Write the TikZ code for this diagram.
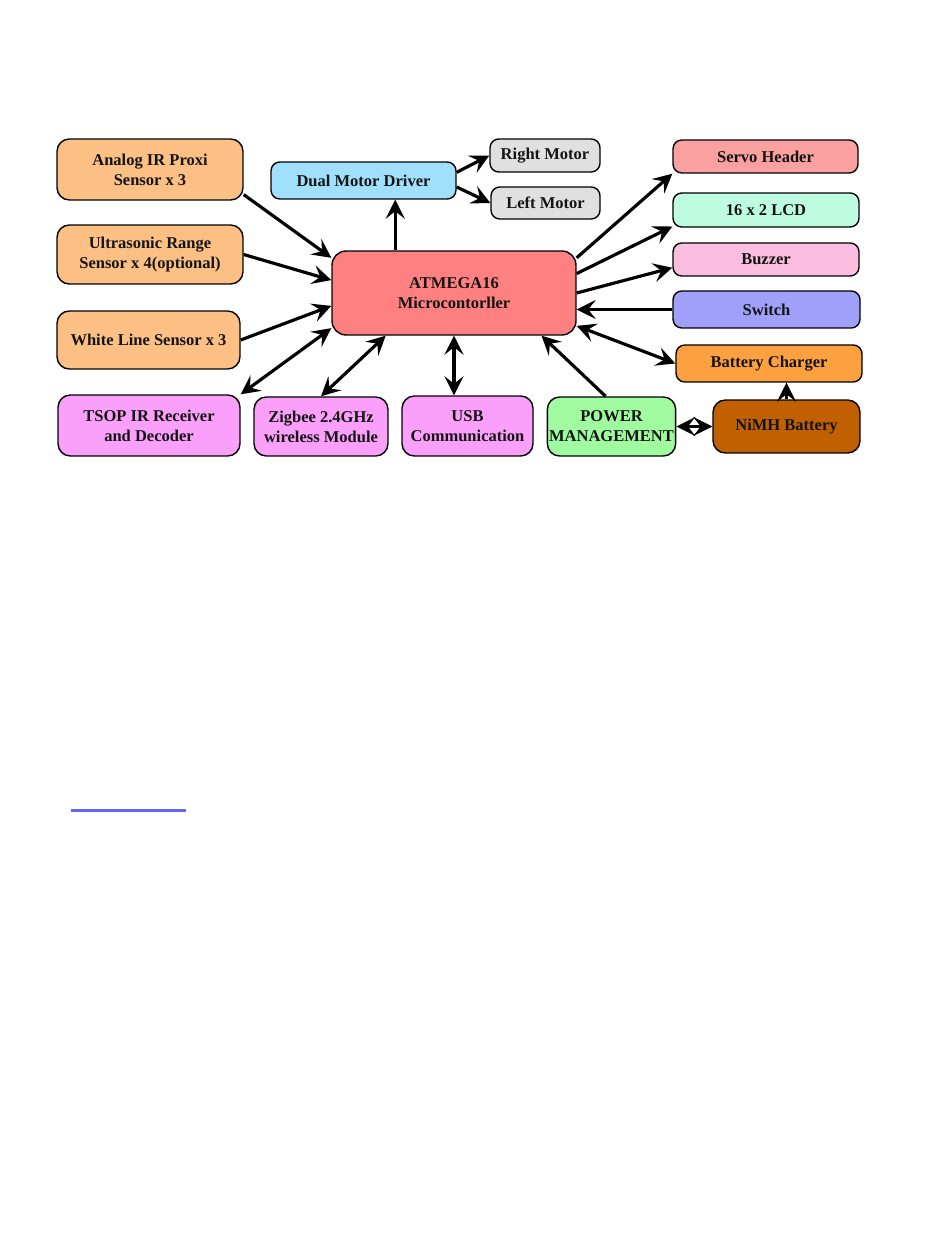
\documentclass[tikz,border=0pt]{standalone}
\usepackage{fontspec}
\setmainfont{Liberation Serif}
\usepackage{tikz}
\usetikzlibrary{arrows.meta, positioning}
\usepackage{xcolor}
\definecolor{sensororange}{RGB}{252, 192, 132}
\definecolor{commviolet}{RGB}{250, 160, 250}
\definecolor{powergreen}{RGB}{160, 250, 160}
\definecolor{batterybrown}{RGB}{192, 96, 0}
\definecolor{chargerorange}{RGB}{252, 160, 64}
\definecolor{switchblue}{RGB}{160, 160, 250}
\definecolor{buzzerpink}{RGB}{252, 190, 224}
\definecolor{lcdmint}{RGB}{190, 252, 224}
\definecolor{servored}{RGB}{250, 160, 160}
\definecolor{driverblue}{RGB}{160, 224, 252}
\definecolor{motorgray}{RGB}{224, 224, 224}
\definecolor{mcured}{RGB}{255, 128, 128}
\definecolor{linkblue}{RGB}{100, 100, 255}
\definecolor{textdark}{RGB}{20, 20, 20}

\begin{document}
\begin{tikzpicture}[
    x=0.02cm, y=-0.02cm,
    block/.style={rectangle, draw=black, rounded corners=5pt, align=center, font=\fontsize{9.4}{11.3}\selectfont\bfseries, text=textdark, line width=0.8pt, inner sep=1pt},
    arrow/.style={-{Stealth[length=3.8mm, width=3.8mm, inset=1.5mm]}, line width=1.8pt, color=black},
    dblarrow/.style={{Stealth[length=3.8mm, width=3.8mm, inset=1.5mm]}-{Stealth[length=3.8mm, width=3.8mm, inset=1.5mm]}, line width=1.8pt, color=black},
]
\useasboundingbox (0,0) rectangle (950,1260);

% Controller
\node[block, fill=mcured, minimum width=4.88cm, minimum height=1.68cm, rounded corners=8pt] (mcu) at (454, 293) {ATMEGA16\\Microcontorller};

% Sensors (left)
\node[block, fill=sensororange, minimum width=3.72cm, minimum height=1.22cm, rounded corners=7pt] (analog) at (150, 169.5) {Analog IR Proxi\\Sensor x 3};
\node[block, fill=sensororange, minimum width=3.72cm, minimum height=1.18cm, rounded corners=7pt] (ultra) at (150, 254.5) {Ultrasonic Range\\Sensor x 4(optional)};
\node[block, fill=sensororange, minimum width=3.66cm, minimum height=1.16cm, rounded corners=7pt] (white) at (148.5, 340) {White Line Sensor x 3};

% Communication (bottom)
\node[block, fill=commviolet, minimum width=3.64cm, minimum height=1.22cm, rounded corners=7pt] (tsop) at (149, 425.5) {TSOP IR Receiver\\and Decoder};
\node[block, fill=commviolet, minimum width=2.68cm, minimum height=1.18cm, rounded corners=7pt] (zigbee) at (321, 426.5) {Zigbee 2.4GHz\\wireless Module};
\node[block, fill=commviolet, minimum width=2.62cm, minimum height=1.20cm, rounded corners=7pt] (usb) at (467.5, 426) {USB\\Communication};

% Power
\node[block, fill=powergreen, minimum width=2.50cm, minimum height=1.18cm, rounded corners=7pt] (power) at (611.5, 426.5) {POWER\\MANAGEMENT};
\node[block, fill=batterybrown, minimum width=2.94cm, minimum height=1.06cm, rounded corners=7pt] (nimh) at (786.5, 426.5) {NiMH Battery};
\node[block, fill=chargerorange, minimum width=3.72cm, minimum height=0.74cm] (charger) at (769, 363.5) {Battery Charger};

% Outputs (right)
\node[block, fill=switchblue, minimum width=3.74cm, minimum height=0.74cm] (switch) at (766.5, 309.5) {Switch};
\node[block, fill=buzzerpink, minimum width=3.72cm, minimum height=0.66cm] (buzzer) at (766, 259.5) {Buzzer};
\node[block, fill=lcdmint, minimum width=3.72cm, minimum height=0.68cm] (lcd) at (766, 210) {16 x 2 LCD};
\node[block, fill=servored, minimum width=3.70cm, minimum height=0.66cm] (servo) at (765.5, 156.5) {Servo Header};

% Motors (top)
\node[block, fill=driverblue, minimum width=3.70cm, minimum height=0.74cm] (dual) at (363.5, 180.5) {Dual Motor Driver};
\node[block, fill=motorgray, minimum width=2.20cm, minimum height=0.66cm] (right) at (545, 155.5) {Right Motor};
\node[block, fill=motorgray, minimum width=2.18cm, minimum height=0.64cm] (left) at (545.5, 203) {Left Motor};

% Sensor inputs
\draw[arrow] (analog.-15) -- (mcu.164);
\draw[arrow] (ultra.east) -- (mcu.174);
\draw[arrow] (white.east) -- (mcu.-174);

% Bidirectional links
\draw[dblarrow] (mcu.196) -- (tsop.north east);
\draw[dblarrow] (mcu.-148) -- (zigbee.north);
\draw[dblarrow] (mcu.south) -- (mcu.south |- usb.north);
\draw[dblarrow] (mcu.-15) -- (charger.west);
\draw[dblarrow] (power.east) -- (nimh.west);

% Power
\draw[arrow] (power.101) -- (mcu.-26);
\draw[arrow] (nimh.north) -- (nimh.north |- charger.south);

% Outputs
\draw[arrow] (switch.west) -- (mcu.east |- switch.west);
\draw[arrow] (mcu.east) -- (buzzer.185);
\draw[arrow] (mcu.9) -- (lcd.190);
\draw[arrow] (mcu.16) -- (servo.south west);

% Motors
\draw[arrow] (mcu.144) -- (mcu.144 |- dual.south);
\draw[arrow] (dual.5) -- (right.west);
\draw[arrow] (dual.-4) -- (left.west);

% Link underline
\draw[linkblue, line width=1.2pt] (71, 810.5) -- (185.5, 810.5);

\end{tikzpicture}
\end{document}
